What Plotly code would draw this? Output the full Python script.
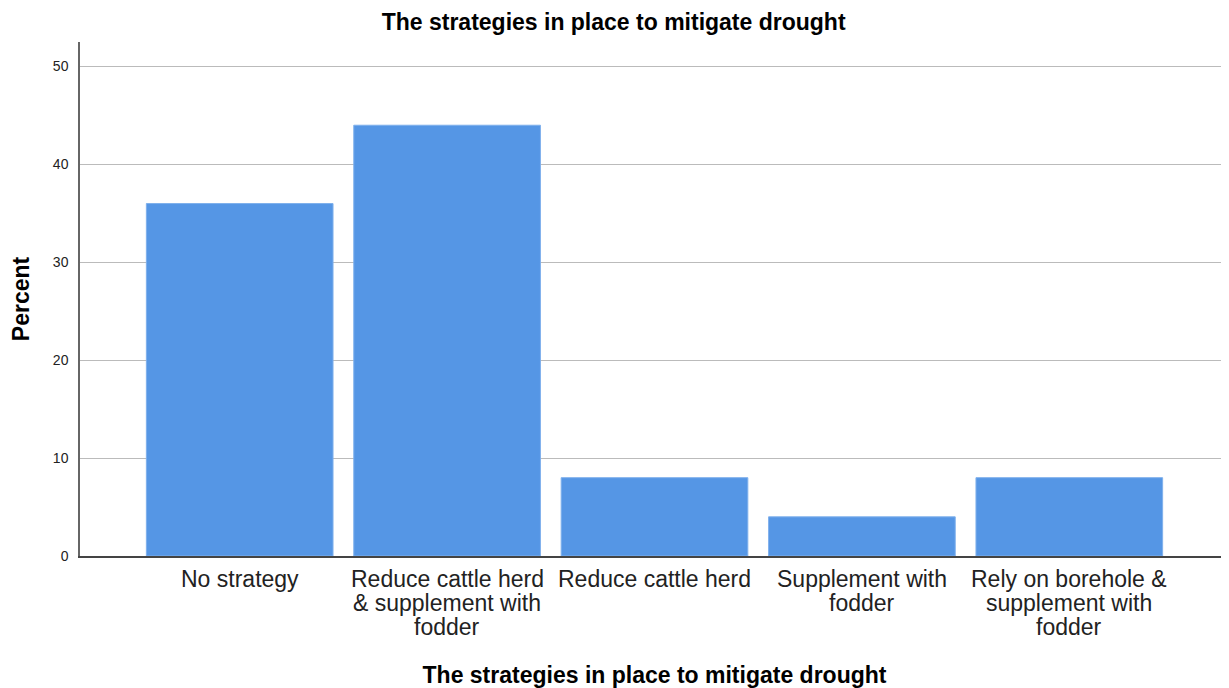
import plotly.graph_objects as go

categories = [
    ["No strategy"],
    ["Reduce cattle herd", "& supplement with", "fodder"],
    ["Reduce cattle herd"],
    ["Supplement with", "fodder"],
    ["Rely on borehole &", "supplement with", "fodder"],
]
percent = [36, 44, 8, 4, 8]
y_ticks = [0, 10, 20, 30, 40, 50]
title_text = "The strategies in place to mitigate drought"

x_pos = list(range(len(categories)))

fig = go.Figure(go.Bar(
    x=x_pos, y=percent, width=0.9,
    marker=dict(color="#5596E5", line=dict(color="#7FB0EC", width=1)),
))

# Category labels with tight SPSS-style line spacing
for i, lines in enumerate(categories):
    for j, line in enumerate(lines):
        fig.add_annotation(
            x=i, y=0, xref="x", yref="y", text=line, showarrow=False,
            xanchor="center", yanchor="middle", yshift=-23 - 24 * j,
            font=dict(size=23, color="#222", family="Arial, Liberation Sans"),
        )

fig.update_layout(
    width=1221, height=680,
    paper_bgcolor="white", plot_bgcolor="white",
    margin=dict(l=72, r=0, t=34, b=132),
    font=dict(family="Arial, Liberation Sans", color="#111"),
    title=dict(text="<b>" + title_text + "</b>", x=0.496, xref="container", xanchor="center",
               y=1 - 14 / 680, yref="container", yanchor="middle",
               font=dict(size=23, color="black")),
    showlegend=False,
)
fig.update_xaxes(
    tickvals=x_pos, showticklabels=False,
    range=[-0.77, 4.77], showline=True, linecolor="#444", linewidth=1.5,
    showgrid=False, ticks="",
    title=dict(text="<b>" + title_text + "</b>", font=dict(size=23, color="black"), standoff=110),
)
fig.update_yaxes(
    range=[0, 52.5], tickvals=y_ticks, showline=True, linecolor="#666", linewidth=1.5,
    showgrid=True, gridcolor="#BBBBBB", gridwidth=1, ticks="", zeroline=False,
    tickfont=dict(size=14, color="#222"), ticklabelstandoff=7,
    title=dict(text="<b>Percent</b>", font=dict(size=23, color="black"), standoff=20),
)
fig.write_html("out.html")
